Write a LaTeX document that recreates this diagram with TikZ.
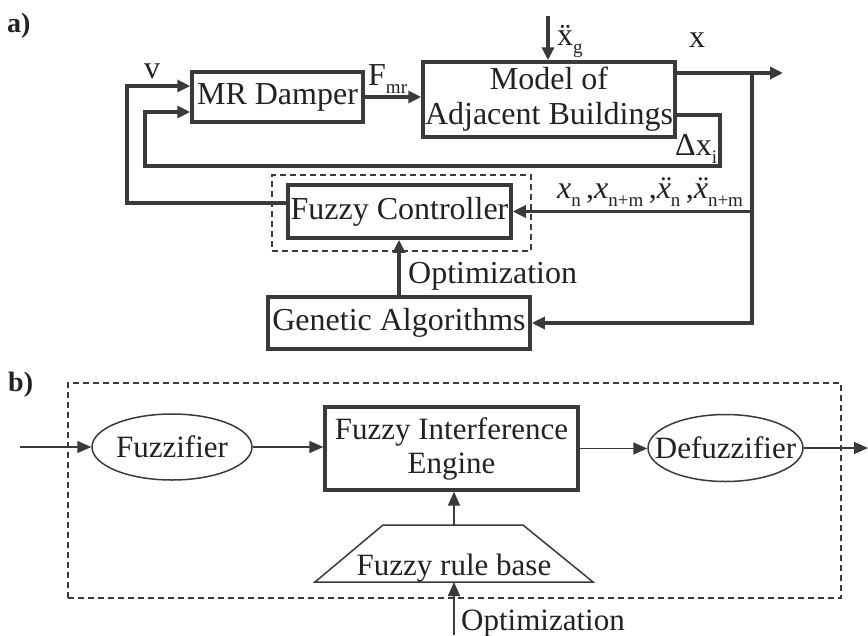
\documentclass[tikz,border=0pt]{standalone}
\usepackage{fontspec}
\setmainfont{Liberation Serif}
\usetikzlibrary{arrows.meta,shapes.geometric}
\definecolor{lc}{HTML}{3A3A3A}
\definecolor{tc}{HTML}{222222}
\newcommand\sbx[1]{\raisebox{-0.28em}{\fontsize{19}{19}\selectfont #1}}
\begin{document}
\begin{tikzpicture}[x=1pt,y=-1pt,
  afont/.style={font=\fontsize{32}{37}\selectfont, text=tc},
  bfont/.style={font=\fontsize{31}{36}\selectfont, text=tc},
  abox/.style={draw=lc, line width=3.5pt, inner sep=0pt, afont, align=center},
  aline/.style={draw=lc, line width=3.2pt},
  aarr/.style={aline, -{Triangle[length=13pt,width=12pt]}},
  bline/.style={draw=lc, line width=1.5pt},
  barr/.style={bline, -{Triangle[length=14pt,width=12pt]}},
  dashbox/.style={draw=lc, line width=1.3pt, dash pattern=on 6pt off 4pt, inner sep=0pt},
  lbl/.style={afont, inner sep=0pt},
  blbl/.style={bfont, inner sep=0pt},
  ell/.style={draw=lc, line width=1.5pt, ellipse, inner sep=0pt},
]
\useasboundingbox (0,0) rectangle (868,635);
% ---------- part a ----------
\node[font=\bfseries\fontsize{28}{28}\selectfont, text=tc, anchor=base west, inner sep=0pt] (la) at (7,32) {a)};
\node[abox, minimum width=171, minimum height=50] (MR) at (277.5,97) {MR Damper};
\node[abox, minimum width=252, minimum height=75] (Model) at (549,99.5) {Model of\\[-2pt]Adjacent Buildings};
\node[dashbox, minimum width=259, minimum height=76] (dfc) at (401.5,213) {};
\node[abox, minimum width=223, minimum height=53] (FC) at (399.5,211.5) {Fuzzy Controller};
\node[abox, minimum width=262, minimum height=52] (GA) at (399,323) {Genetic Algorithms};

\coordinate (xg) at (548,16);
\coordinate (out) at (783,73);
\coordinate (br) at (752,73);
\coordinate (d1) at (720,115);
\coordinate (d2) at (720,166);
\coordinate (d3) at (145,166);
\coordinate (d4) at (145,112);
\coordinate (vl) at (127,203);
\coordinate (vt) at (127,86);

\draw[aarr] (MR.east) -- (MR.east -| Model.west);
\draw[aarr] (xg) -- (xg |- Model.north);
\draw[aarr] (Model.east |- out) -- (out);
\draw[aarr] (br) |- (GA.east);
\draw[aarr] (br |- FC.east) -- (FC.east);
\draw[aarr] (Model.east |- d1) -- (d1) -- (d2) -- (d3) -- (d4) -- (d4 -| MR.west);
\draw[aarr] (FC.west |- vl) -- (vl) -- (vt) -- (vt -| MR.west);
\draw[aarr] (GA.north) -- (GA.north |- FC.south);

\node[lbl] (lv) at (152,71) {v};
\node[lbl, anchor=base west] (lf) at (368,85) {F\sbx{mr}};
\node[lbl, anchor=base west] (lxg) at (557,45) {\"x\sbx{g}};
\node[lbl] (lx) at (697,40) {x};
\node[lbl, anchor=base west] (ldx) at (675,155) {Δx\sbx{i}};
\node[lbl, anchor=base west] (lxn) at (557,198) {\textit{x}\sbx{n}\,,\textit{x}\sbx{n+m}\,,\textit{\"x}\sbx{n}\,,\textit{\"x}\sbx{n+m}};
\node[lbl, anchor=base west] (lopt) at (408,283) {Optimization};

% ---------- part b ----------
\node[font=\bfseries\fontsize{28}{28}\selectfont, text=tc, anchor=base west, inner sep=0pt] (lb) at (8,391) {b)};
\node[dashbox, minimum width=773, minimum height=215] (db) at (454.5,490.5) {};
\node[ell, minimum width=160, minimum height=66] (fz) at (172,447) {};
\node[blbl] at (fz) {Fuzzifier};
\node[draw=lc, line width=3.2pt, minimum width=253, minimum height=83, inner sep=0pt, bfont, align=center] (fie) at (451.5,448.5) {Fuzzy Interference\\[-2pt]Engine};
\node[ell, minimum width=155, minimum height=67] (dfz) at (725.5,448) {};
\node[blbl] at (dfz) {Defuzzifier};
\draw[bline] (315,582) -- (383,525) -- (523,525) -- (593,582) -- cycle;
\node[blbl, anchor=base] (rb) at (454,575) {Fuzzy rule base};
\coordinate (rtop) at (454,525);
\coordinate (rbot) at (454,582);
\coordinate (opt) at (454,635);
\coordinate (bin) at (20,447);
\coordinate (bout) at (868,448);

\draw[barr] (bin) -- (fz.west);
\draw[barr] (fz.east) -- (fz.east -| fie.west);
\draw[barr] (fie.east) -- (fie.east -| dfz.west);
\draw[barr] (dfz.east) -- (bout);
\draw[barr] (rtop) -- (rtop |- fie.south);
\draw[barr] (opt) -- (rbot);
\node[blbl, anchor=base west] (lopt2) at (461,630) {Optimization};
\end{tikzpicture}
\end{document}
